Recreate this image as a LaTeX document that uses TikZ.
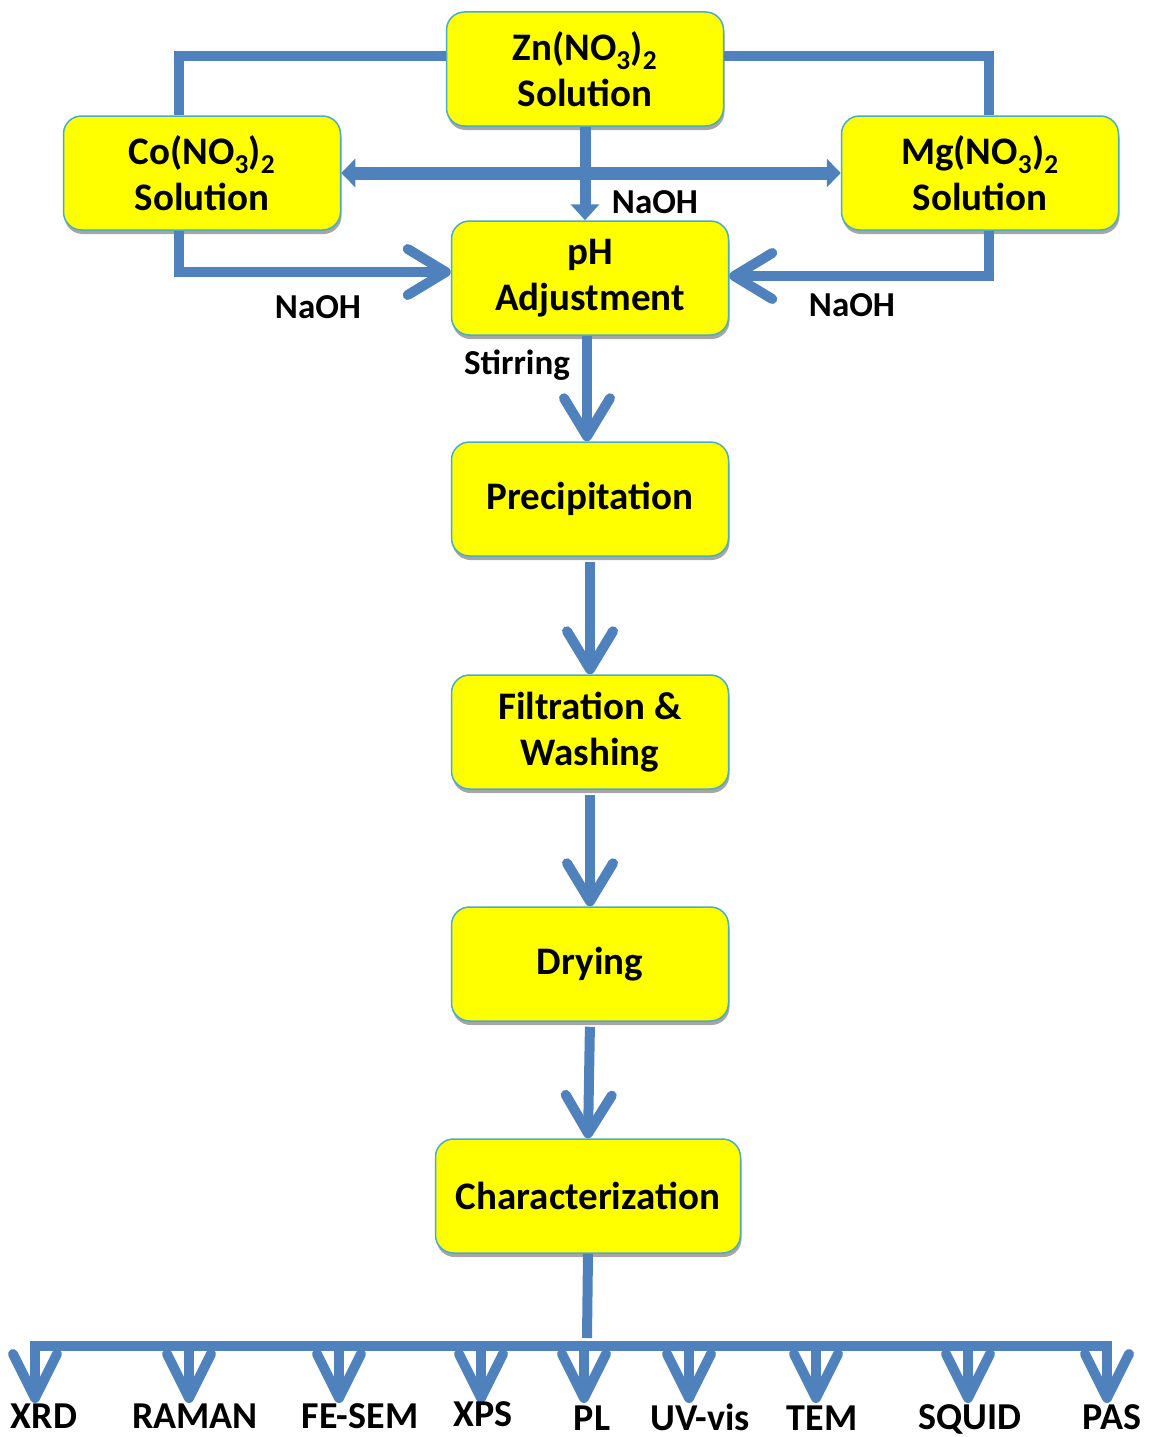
\documentclass[tikz,border=0pt]{standalone}
\usepackage{fontspec}
\setmainfont{Carlito}
\usetikzlibrary{arrows.meta,shadows}
\definecolor{lineblue}{HTML}{4F81BD}
\definecolor{boxedge}{HTML}{4BACC6}
\definecolor{boxfill}{HTML}{FFFF00}
\begin{document}
\begin{tikzpicture}[x=1pt,y=-1pt,
  box/.style={rectangle, rounded corners=18pt, draw=boxedge, line width=1.5pt, fill=boxfill,
     minimum width=277pt, minimum height=114pt, inner sep=0pt, align=center,
     font=\bfseries\fontsize{39}{46}\selectfont,
     drop shadow={shadow xshift=1pt, shadow yshift=-4pt, opacity=0.35, fill=black}},
  lab/.style={font=\bfseries\fontsize{35}{42}\selectfont, inner sep=0pt, anchor=base},
  blab/.style={font=\bfseries\fontsize{38}{42}\selectfont, inner sep=0pt, anchor=base},
  conn/.style={draw=lineblue, line width=10pt},
  chev/.style={conn, -{Straight Barb[length=38pt,width=46pt,round]}},
  bchev/.style={conn, -{Straight Barb[length=44pt,width=44pt,round]}},
  smallhead/.style={conn, line width=11pt, -{Triangle[length=16pt,width=28pt]}},
  dbl/.style={conn, line width=13pt, {Triangle[length=14pt,width=28pt]}-{Triangle[length=14pt,width=28pt]}}
]
\useasboundingbox (0,0) rectangle (1153,1437);

% boxes
\node[box] (zn) at (585,69) {Zn(NO\textsubscript{3})\textsubscript{2}\\Solution};
\node[box] (co) at (202,173) {Co(NO\textsubscript{3})\textsubscript{2}\\Solution};
\node[box] (mg) at (980,173) {Mg(NO\textsubscript{3})\textsubscript{2}\\Solution};
\node[box] (ph) at (590,278) {pH\\Adjustment};
\node[box] (pr) at (590,499) {Precipitation};
\node[box] (fi) at (590,732) {Filtration \&\\Washing};
\node[box] (dr) at (590,964) {Drying};
\node[box, minimum width=305pt] (ch) at (588,1196) {Characterization};

% top connectors
\draw[conn] ([yshift=13pt]zn.west) -| ([xshift=-23pt]co.north);
\draw[conn] ([yshift=13pt]zn.east) -| ([xshift=9pt]mg.north);
\draw[dbl] (co.east) -- (mg.west);
\draw[smallhead] (zn.south) -- (zn.south |- ph.north);
\draw[chev] ([xshift=-23pt]co.south) |- ([yshift=6pt]ph.west);
\draw[chev] ([xshift=9pt]mg.south) |- ([yshift=2pt]ph.east);

\node[lab] (n1) at (655,213) {NaOH};
\node[lab] (n2) at (318,318) {NaOH};
\node[lab] (n3) at (852,316) {NaOH};
\node[lab] (st) at (517,374) {Stirring};

% main chain
\draw[chev] ([xshift=-3pt]ph.south) -- ([xshift=-3pt]pr.north);
\draw[chev, shorten <=5pt] (pr.south) -- (fi.north);
\draw[chev, shorten <=5pt] (fi.south) -- (dr.north);
\draw[chev, shorten <=5pt] (dr.south) -- (ch.north);

% characterization fan-out
\coordinate (hub) at (587,1338);
\draw[conn] (ch.south) -- (hub);
\foreach \i/\x in {1/35,2/189,3/339,4/481,5/584,6/689,7/816,8/968,9/1107}{
  \coordinate (a\i) at (\x,1346);
  \coordinate (e\i) at (\x,1403);
}
\draw[conn, line cap=rect] (a1) -- (a9);
\foreach \i in {1,...,9}{
  \draw[bchev] (a\i) -- (e\i);
}
\node[blab] (t1) at (44,1428) {XRD};
\node[blab] (t2) at (195,1428) {RAMAN};
\node[blab] (t3) at (360,1428) {FE-SEM};
\node[blab] (t4) at (483,1426) {XPS};
\node[blab] (t5) at (592,1430) {PL};
\node[blab] (t6) at (700,1430) {UV-vis};
\node[blab] (t7) at (822,1430) {TEM};
\node[blab] (t8) at (970,1429) {SQUID};
\node[blab] (t9) at (1112,1429) {PAS};
\end{tikzpicture}
\end{document}
